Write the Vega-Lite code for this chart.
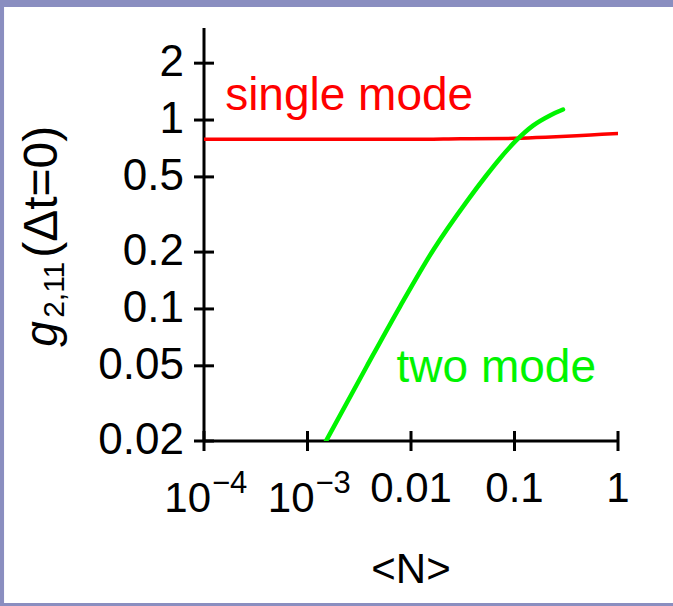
{
  "$schema": "https://vega.github.io/schema/vega-lite/v6.json",
  "autosize": "none",
  "width": 414,
  "height": 413,
  "padding": {"left": 204, "top": 28, "right": 55, "bottom": 165},
  "background": "#8a8ec0",
  "config": {
    "view": {"stroke": null},
    "font": "Liberation Sans"
  },
  "datasets": {
    "curves": [
      {"series": "single mode", "N": 0.0001, "g": 0.79},
      {"series": "single mode", "N": 0.0003, "g": 0.79},
      {"series": "single mode", "N": 0.001, "g": 0.79},
      {"series": "single mode", "N": 0.003, "g": 0.79},
      {"series": "single mode", "N": 0.01, "g": 0.79},
      {"series": "single mode", "N": 0.03, "g": 0.795},
      {"series": "single mode", "N": 0.1, "g": 0.8},
      {"series": "single mode", "N": 0.2, "g": 0.81},
      {"series": "single mode", "N": 0.4, "g": 0.825},
      {"series": "single mode", "N": 0.7, "g": 0.84},
      {"series": "single mode", "N": 1.04, "g": 0.85},
      {"series": "two mode", "N": 0.00151, "g": 0.02},
      {"series": "two mode", "N": 0.00373, "g": 0.0496},
      {"series": "two mode", "N": 0.00783, "g": 0.103},
      {"series": "two mode", "N": 0.01642, "g": 0.2052},
      {"series": "two mode", "N": 0.03452, "g": 0.37},
      {"series": "two mode", "N": 0.05387, "g": 0.5117},
      {"series": "two mode", "N": 0.07243, "g": 0.6263},
      {"series": "two mode", "N": 0.1057, "g": 0.7866},
      {"series": "two mode", "N": 0.1509, "g": 0.9341},
      {"series": "two mode", "N": 0.2203, "g": 1.0576},
      {"series": "two mode", "N": 0.2942, "g": 1.1366}
    ],
    "yticks": [
      {"v": 0.02, "label": "0.02"}, {"v": 0.05, "label": "0.05"}, {"v": 0.1, "label": "0.1"},
      {"v": 0.2, "label": "0.2"}, {"v": 0.5, "label": "0.5"}, {"v": 1, "label": "1"}, {"v": 2, "label": "2"}
    ],
    "xticks": [
      {"v": 0.0001, "base": "10", "exp": "−4", "plain": ""},
      {"v": 0.001, "base": "10", "exp": "−3", "plain": ""},
      {"v": 0.01, "base": "", "exp": "", "plain": "0.01"},
      {"v": 0.1, "base": "", "exp": "", "plain": "0.1"},
      {"v": 1, "base": "", "exp": "", "plain": "1"}
    ],
    "one": [{"k": 1}]
  },
  "encoding": {
    "x": {"type": "quantitative", "scale": {"type": "log", "domain": [0.0001, 1], "nice": false}, "axis": null},
    "y": {"type": "quantitative", "scale": {"type": "log", "domain": [0.02, 3.07], "nice": false}, "axis": null}
  },
  "layer": [
    {
      "description": "white page inside the lavender frame",
      "data": {"name": "one"},
      "mark": {"type": "rect", "fill": "white", "clip": false},
      "encoding": {
        "x": {"datum": 0.00000117, "type": "quantitative", "axis": null},
        "x2": {"datum": 4},
        "y": {"datum": 3.96, "type": "quantitative", "axis": null},
        "y2": {"datum": 0.00278}
      }
    },
    {
      "description": "y axis line",
      "data": {"name": "one"},
      "mark": {"type": "rule", "color": "black", "strokeWidth": 3},
      "encoding": {
        "x": {"datum": 0.0001, "type": "quantitative", "axis": null},
        "y": {"datum": 0.02, "type": "quantitative", "axis": null},
        "y2": {"datum": 3.07}
      }
    },
    {
      "description": "x axis line",
      "data": {"name": "one"},
      "mark": {"type": "rule", "color": "black", "strokeWidth": 3},
      "encoding": {
        "x": {"datum": 0.0001, "type": "quantitative", "axis": null},
        "x2": {"datum": 1},
        "y": {"datum": 0.02, "type": "quantitative", "axis": null}
      }
    },
    {
      "data": {"name": "yticks"},
      "mark": {"type": "tick", "orient": "horizontal", "color": "black", "thickness": 3, "opacity": 1},
      "encoding": {
        "y": {"field": "v", "type": "quantitative", "axis": null},
        "x": {"datum": 0.0001, "type": "quantitative", "axis": null},
        "size": {"value": 20}
      }
    },
    {
      "data": {"name": "yticks"},
      "mark": {"type": "text", "fontSize": 44, "align": "right", "baseline": "middle", "dx": -20, "color": "black"},
      "encoding": {
        "y": {"field": "v", "type": "quantitative", "axis": null},
        "x": {"datum": 0.0001, "type": "quantitative", "axis": null},
        "text": {"field": "label"}
      }
    },
    {
      "data": {"name": "xticks"},
      "mark": {"type": "tick", "orient": "vertical", "color": "black", "thickness": 3, "opacity": 1},
      "encoding": {
        "x": {"field": "v", "type": "quantitative", "axis": null},
        "y": {"datum": 0.02, "type": "quantitative", "axis": null},
        "size": {"value": 20}
      }
    },
    {
      "data": {"name": "xticks"},
      "mark": {"type": "text", "fontSize": 42, "align": "center", "baseline": "alphabetic", "dy": 61, "color": "black"},
      "encoding": {
        "x": {"field": "v", "type": "quantitative", "axis": null},
        "y": {"datum": 0.02, "type": "quantitative", "axis": null},
        "text": {"field": "plain"}
      }
    },
    {
      "data": {"name": "xticks"},
      "mark": {"type": "text", "fontSize": 42, "align": "right", "baseline": "alphabetic", "dx": 7, "dy": 71, "color": "black"},
      "encoding": {
        "x": {"field": "v", "type": "quantitative", "axis": null},
        "y": {"datum": 0.02, "type": "quantitative", "axis": null},
        "text": {"field": "base"}
      }
    },
    {
      "data": {"name": "xticks"},
      "mark": {"type": "text", "fontSize": 31, "align": "left", "baseline": "alphabetic", "dx": 8, "dy": 52, "color": "black"},
      "encoding": {
        "x": {"field": "v", "type": "quantitative", "axis": null},
        "y": {"datum": 0.02, "type": "quantitative", "axis": null},
        "text": {"field": "exp"}
      }
    },
    {
      "data": {"name": "curves"},
      "mark": {"type": "line", "interpolate": "monotone", "clip": true, "strokeCap": "round"},
      "encoding": {
        "x": {"field": "N", "type": "quantitative", "axis": null},
        "y": {"field": "g", "type": "quantitative", "axis": null},
        "color": {"field": "series", "type": "nominal", "scale": {"domain": ["single mode", "two mode"], "range": ["#ff0000", "#00f400"]}, "legend": null},
        "strokeWidth": {"field": "series", "type": "nominal", "scale": {"domain": ["single mode", "two mode"], "range": [3.5, 4.5]}, "legend": null}
      }
    },
    {
      "data": {"values": [{"label": "single mode", "N": 0.00016, "g": 1.13}, {"label": "two mode", "N": 0.00725, "g": 0.0412}]},
      "mark": {"type": "text", "fontSize": 46, "align": "left", "baseline": "alphabetic"},
      "encoding": {
        "x": {"field": "N", "type": "quantitative", "axis": null},
        "y": {"field": "g", "type": "quantitative", "axis": null},
        "text": {"field": "label"},
        "color": {"field": "label", "type": "nominal", "scale": {"domain": ["single mode", "two mode"], "range": ["#ff0000", "#00f400"]}, "legend": null}
      }
    },
    {
      "description": "y title: italic g",
      "data": {"name": "one"},
      "mark": {"type": "text", "text": "g", "fontSize": 46, "fontStyle": "italic", "angle": 270, "align": "left", "baseline": "alphabetic", "color": "black"},
      "encoding": {
        "x": {"datum": 0.0000038, "type": "quantitative", "axis": null},
        "y": {"datum": 0.063, "type": "quantitative", "axis": null}
      }
    },
    {
      "description": "y title: subscript 2,11",
      "data": {"name": "one"},
      "mark": {"type": "text", "text": "2,11", "fontSize": 30, "angle": 270, "align": "left", "baseline": "alphabetic", "dx": 29, "dy": 7, "color": "black"},
      "encoding": {
        "x": {"datum": 0.0000038, "type": "quantitative", "axis": null},
        "y": {"datum": 0.063, "type": "quantitative", "axis": null}
      }
    },
    {
      "description": "y title: (Δt=0)",
      "data": {"name": "one"},
      "mark": {"type": "text", "text": "(Δt=0)", "fontSize": 48, "angle": 270, "align": "left", "baseline": "alphabetic", "dx": 89, "color": "black"},
      "encoding": {
        "x": {"datum": 0.0000038, "type": "quantitative", "axis": null},
        "y": {"datum": 0.063, "type": "quantitative", "axis": null}
      }
    },
    {
      "description": "x title",
      "data": {"name": "one"},
      "mark": {"type": "text", "text": "<N>", "fontSize": 42, "align": "center", "baseline": "alphabetic", "dy": 142, "color": "black"},
      "encoding": {
        "x": {"datum": 0.01, "type": "quantitative", "axis": null},
        "y": {"datum": 0.02, "type": "quantitative", "axis": null}
      }
    }
  ]
}
